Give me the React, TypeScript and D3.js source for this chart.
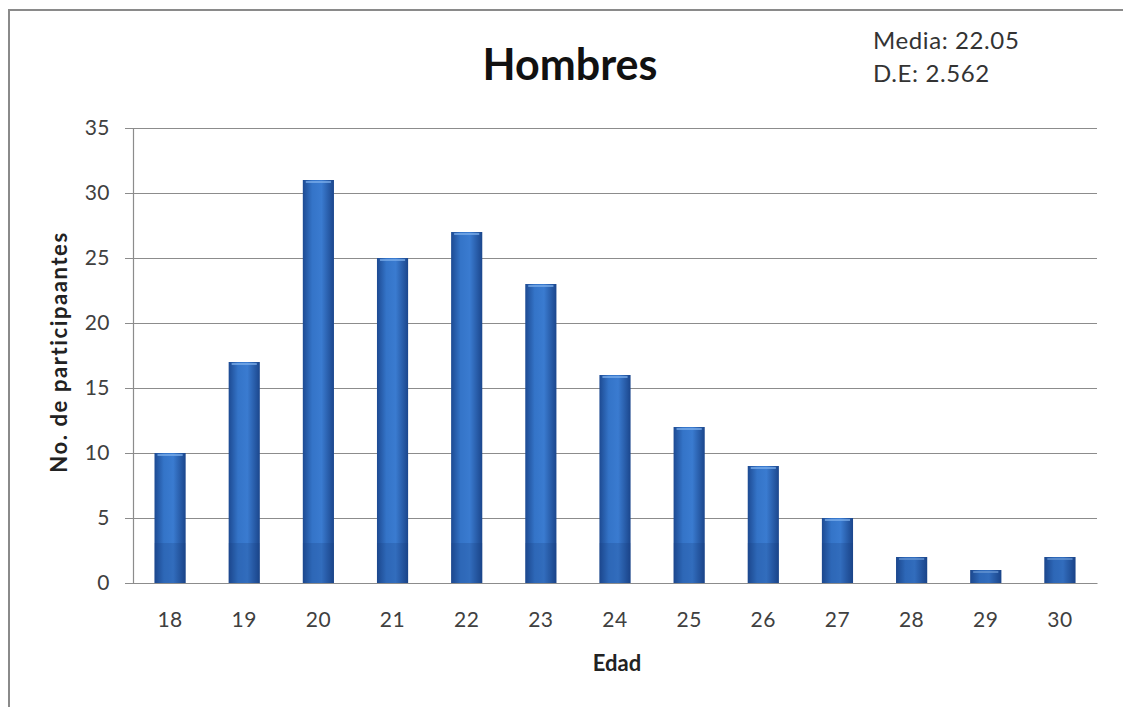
import React, { useEffect, useRef } from "react";
import * as d3 from "d3";

const ages = ["18", "19", "20", "21", "22", "23", "24", "25", "26", "27", "28", "29", "30"];
const counts = [10, 17, 31, 25, 27, 23, 16, 12, 9, 5, 2, 1, 2];
const yTicks = [0, 5, 10, 15, 20, 25, 30, 35];
const statLines = ["Media: 22.05", "D.E: 2.562"];

const W = 1123;
const H = 707;
const font = "Lato, 'Open Sans', sans-serif";

export default function App() {
  const ref = useRef<SVGSVGElement>(null);

  useEffect(() => {
    const svg = d3.select(ref.current);
    svg.selectAll("*").remove();

    const left = 133, right = 1097, top = 128, bottom = 583;

    const x = d3.scaleBand().domain(ages).range([left, right]).padding(0);
    const y = d3.scaleLinear().domain([0, 35]).range([bottom, top]);

    const defs = svg.append("defs");
    const grad = defs.append("linearGradient").attr("id", "barGrad")
      .attr("x1", "0%").attr("x2", "100%").attr("y1", "0%").attr("y2", "0%");
    grad.append("stop").attr("offset", "0%").attr("stop-color", "#1d4a92");
    grad.append("stop").attr("offset", "30%").attr("stop-color", "#3474c8");
    grad.append("stop").attr("offset", "60%").attr("stop-color", "#3a7bd0");
    grad.append("stop").attr("offset", "100%").attr("stop-color", "#1b468c");

    // frame (only top and left edges visible)
    svg.append("path")
      .attr("d", `M9,${H} L9,10 L${W},10`)
      .attr("fill", "none")
      .attr("stroke", "#8a8a8a")
      .attr("stroke-width", 2);

    // gridlines
    svg.append("g").selectAll("line")
      .data(yTicks)
      .enter()
      .append("line")
      .attr("x1", left)
      .attr("x2", right)
      .attr("y1", d => Math.round(y(d)) + 0.5)
      .attr("y2", d => Math.round(y(d)) + 0.5)
      .attr("stroke", "#8c8c8c")
      .attr("stroke-width", 1.2);

    // y axis
    const yAxis = svg.append("g")
      .attr("transform", `translate(${left},0)`)
      .call(d3.axisLeft(y).tickValues(yTicks).tickSize(8).tickPadding(15));
    yAxis.select(".domain").attr("stroke", "#8c8c8c").attr("stroke-width", 1.2);
    yAxis.selectAll(".tick line").attr("stroke", "#8c8c8c");
    yAxis.selectAll(".tick text")
      .attr("font-family", font)
      .attr("font-size", 21)
      .attr("letter-spacing", 0.5)
      .attr("fill", "#404040");

    // bars
    const barW = x.bandwidth() * 0.42;
    const bars = svg.append("g").selectAll("g")
      .data(counts)
      .enter()
      .append("g");
    bars.append("rect")
      .attr("x", (d, i) => x(ages[i])! + (x.bandwidth() - barW) / 2)
      .attr("y", d => y(d))
      .attr("width", barW)
      .attr("height", d => bottom - y(d))
      .attr("fill", "url(#barGrad)");
    // top highlight
    bars.append("rect")
      .attr("x", (d, i) => x(ages[i])! + (x.bandwidth() - barW) / 2 + 3)
      .attr("y", d => y(d) + 1)
      .attr("width", barW - 6)
      .attr("height", 2)
      .attr("fill", "#7fb0ec")
      .attr("opacity", 0.7);
    // darker base section
    bars.append("rect")
      .attr("x", (d, i) => x(ages[i])! + (x.bandwidth() - barW) / 2)
      .attr("y", d => Math.max(y(d), bottom - 40))
      .attr("width", barW)
      .attr("height", d => Math.min(bottom - y(d), 40))
      .attr("fill", "#163c7a")
      .attr("opacity", 0.22);

    // x axis
    const xAxis = svg.append("g")
      .attr("transform", `translate(0,${bottom})`)
      .call(d3.axisBottom(x).tickSize(0).tickPadding(29));
    xAxis.select(".domain").attr("stroke", "#8c8c8c").attr("stroke-width", 1.2);
    xAxis.selectAll(".tick text")
      .attr("font-family", font)
      .attr("font-size", 21)
      .attr("letter-spacing", 0.5)
      .attr("fill", "#404040");

    // title
    svg.append("text")
      .attr("x", 570)
      .attr("y", 80)
      .attr("text-anchor", "middle")
      .attr("font-family", font)
      .attr("font-weight", "bold")
      .attr("font-size", 43)
      .attr("fill", "#111")
      .text("Hombres");

    // stats
    svg.append("g").selectAll("text")
      .data(statLines)
      .enter()
      .append("text")
      .attr("x", 873)
      .attr("y", (d, i) => 49 + i * 33)
      .attr("font-family", font)
      .attr("font-size", 24)
      .attr("letter-spacing", 0.6)
      .attr("fill", "#333")
      .text(d => d);

    // axis labels
    svg.append("text")
      .attr("x", 617)
      .attr("y", 671)
      .attr("text-anchor", "middle")
      .attr("font-family", font)
      .attr("font-weight", "bold")
      .attr("font-size", 22)
      .attr("fill", "#222")
      .text("Edad");

    svg.append("text")
      .attr("transform", "translate(67,352) rotate(-90)")
      .attr("text-anchor", "middle")
      .attr("font-family", font)
      .attr("font-weight", "bold")
      .attr("font-size", 22)
      .attr("letter-spacing", 1.6)
      .attr("fill", "#222")
      .text("No. de participaantes");
  }, []);

  return (
    <svg
      ref={ref}
      width={W}
      height={H}
      style={{ position: "absolute", left: 0, top: 0, background: "#fff" }}
    />
  );
}
